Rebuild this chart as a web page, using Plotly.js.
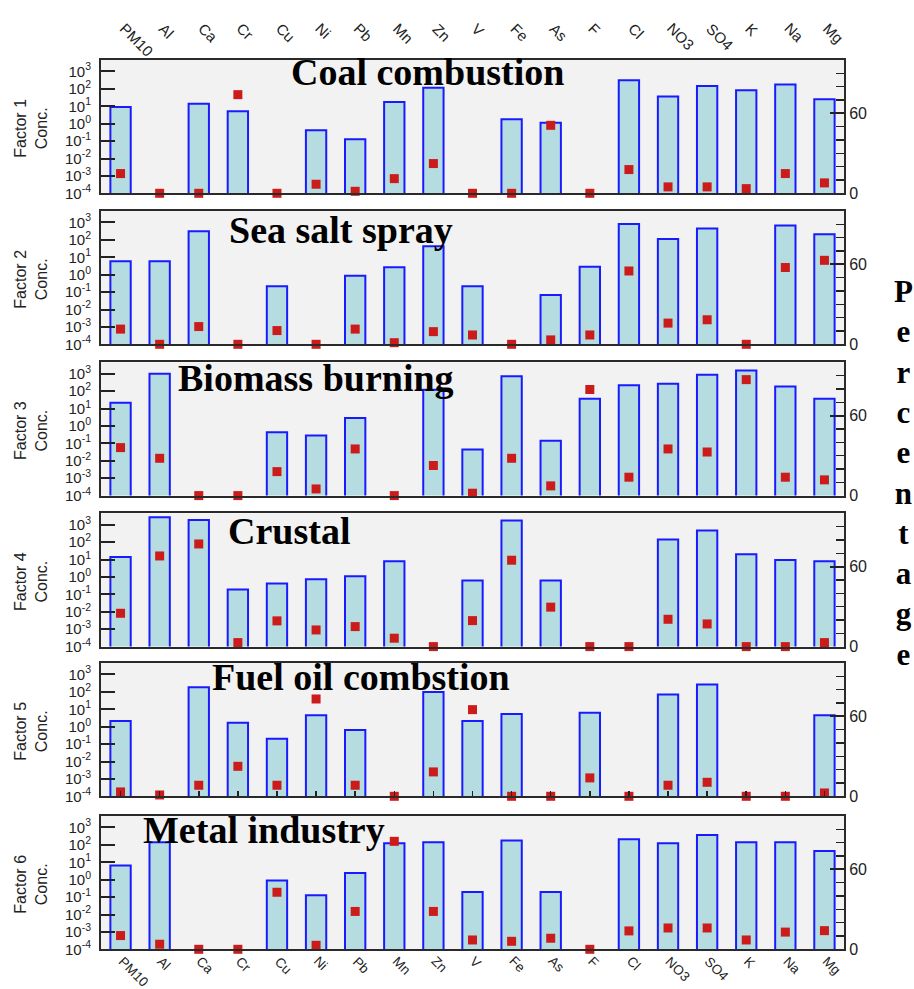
<!DOCTYPE html>
<html><head><meta charset="utf-8">
<script src="https://cdn.plot.ly/plotly-3.0.1.min.js"></script>
<style>html,body{margin:0;padding:0;background:#fff}</style>
</head><body>
<div id="chart" style="width:914px;height:989px"></div>
<script>
// ---------------- DATA ----------------
const categories = ['PM10','Al','Ca','Cr','Cu','Ni','Pb','Mn','Zn','V','Fe','As','F','Cl','NO3','SO4','K','Na','Mg'];
const factorNames = ['Coal combustion','Sea salt spray','Biomass burning','Crustal','Fuel oil combstion','Metal industry'];
const factorLabels = ['Factor 1','Factor 2','Factor 3','Factor 4','Factor 5','Factor 6'];

// concentration (bars, log axis)
const conc1 = [9.1, null, 14, 5.2, null, 0.42, 0.126, 17.6, 118, null, 1.8, 1.15, null, 310, 37, 147, 83, 177, 25];
const conc2 = [6, 6, 310, null, 0.22, null, 0.87, 2.7, 43, 0.22, null, 0.067, 2.9, 820, 114, 445, null, 680, 210];
const conc3 = [22, 1000, null, null, 0.44, 0.28, 2.9, null, 120, 0.045, 720, 0.14, 37, 220, 265, 870, 1520, 185, 37];
const conc4 = [14, 2700, 1900, 0.19, 0.42, 0.74, 1.1, 7.9, null, 0.62, 1740, 0.62, null, null, 142, 465, 20.6, 9.4, 7.9];
const conc5 = [2.1, null, 185, 1.7, 0.2, 4.6, 0.65, null, 100, 2.1, 5.3, null, 6.3, null, 71, 265, null, null, 4.5];
const conc6 = [6.6, 140, null, null, 0.91, 0.126, 2.4, 123, 140, 0.195, 176, 0.195, null, 208, 123, 372, 140, 140, 45];

// percentage of species (red squares, right axis)
const pct1 = [14.8, 0, 0, 74, 0, 6.8, 1.5, 11, 22.3, 0, 0, 51, 0, 17.8, 4.8, 4.8, 3.5, 14.8, 7.8];
const pct2 = [11.4, 0, 13.3, 0, 10.3, 0, 11.4, 1.2, 9.5, 7, 0, 3.3, 7, 55, 15.9, 18.4, 0, 57.6, 63];
const pct3 = [36, 28, 0, 0, 18, 5, 35, 0, 22.6, 1.8, 28, 7.3, 79.6, 13.8, 35, 32.7, 87, 13.8, 11.8];
const pct4 = [25, 68, 77, 3, 19.3, 12.5, 15, 6.3, 0, 19.5, 64.8, 29.6, 0, 0, 20.5, 17, 0, 0, 3];
const pct5 = [3.3, 1, 8.3, 22.5, 8.3, 73, 8.3, 0, 18.3, 65, 0, 0, 13.8, 0, 8.3, 10.5, 0, 0, 2.5];
const pct6 = [10.3, 3.8, 0, 0, 42.8, 3, 28.4, 81, 28.4, 7, 6, 8.3, 0, 13.8, 16, 16, 7, 12.9, 14];

const logTickVals = [1e-4, 1e-3, 1e-2, 1e-1, 1, 10, 100, 1000];
const logTickText = ['10<sup>-4</sup>','10<sup>-3</sup>','10<sup>-2</sup>','10<sup>-1</sup>','10<sup>0</sup>','10<sup>1</sup>','10<sup>2</sup>','10<sup>3</sup>'];
const pctTickVals = [0, 60];
const pctTickText = ['0', '60'];
const sideLabel = 'Percentage';

const concs = [conc1, conc2, conc3, conc4, conc5, conc6];
const pcts = [pct1, pct2, pct3, pct4, pct5, pct6];

// ---------------- LAYOUT ----------------
const W = 914, H = 989, ML = 101, MR = 70;
const PW = W - ML - MR;
const panelTop = [60, 211, 362.3, 513.3, 663, 816];
const panelH = 133.3;
const titlePos = [[427.5, 72], [341, 229.7], [316, 378], [288.5, 531], [361, 677], [264, 830]];

const sans = 'Liberation Sans, Arial, sans-serif';
const serif = 'Liberation Serif, Times New Roman, serif';
const px2x = p => (p - ML) / PW;
const px2y = p => 1 - p / H;

const data = [];
const layout = {
  width: W, height: H,
  margin: {l: ML, r: MR, t: 0, b: 0},
  paper_bgcolor: '#ffffff',
  plot_bgcolor: '#f2f2f2',
  showlegend: false,
  annotations: [],
  font: {family: sans, color: '#222'}
};

for (let i = 0; i < 6; i++) {
  const k = i + 1;
  const xid = k === 1 ? 'x' : 'x' + k;
  const yl = 'y' + (2 * i + 1 === 1 ? '' : (2 * i + 1));
  const yr = 'y' + (2 * i + 2);
  const xname = k === 1 ? 'xaxis' : 'xaxis' + k;
  const ylname = 'yaxis' + (2 * i + 1 === 1 ? '' : (2 * i + 1));
  const yrname = 'yaxis' + (2 * i + 2);
  const top = panelTop[i], bot = panelTop[i] + panelH;
  const dom = [px2y(bot), px2y(top)];

  data.push({
    type: 'bar', x: categories, y: concs[i], xaxis: xid, yaxis: yl,
    width: 0.52,
    marker: {color: '#b5dde1', line: {color: '#1a1aff', width: 2}},
    hoverinfo: 'x+y'
  });
  data.push({
    type: 'scatter', mode: 'markers', x: categories, y: pcts[i], xaxis: xid, yaxis: yr,
    cliponaxis: false,
    marker: {symbol: 'square', size: 9, color: '#cc1b1b'},
    hoverinfo: 'x+y'
  });

  layout[xname] = {
    type: 'category', domain: [0, 1], anchor: yl, range: [-0.5, 18.5],
    showticklabels: false, showgrid: false, zeroline: false,
    showline: true, mirror: true, linecolor: '#2a2a2a', linewidth: 2,
    ticks: k === 5 ? 'inside' : '', ticklen: 5, tickwidth: 1.5, tickcolor: '#222',
    fixedrange: true
  };
  layout[ylname] = {
    type: 'log', domain: dom, anchor: xid, range: [-4, 3.66],
    tickmode: 'array', tickvals: logTickVals, ticktext: logTickText,
    ticks: 'inside', ticklen: 14, tickwidth: 2, tickcolor: '#222',
    showgrid: false, zeroline: false, showline: true, linecolor: '#2a2a2a', linewidth: 2,
    tickfont: {family: sans, size: 15, color: '#222'},
    ticklabelstandoff: 5,
    fixedrange: true
  };
  layout[yrname] = {
    overlaying: yl, side: 'right', anchor: xid, range: [0, 100],
    tickmode: 'array', tickvals: pctTickVals, ticktext: pctTickText,
    ticks: 'inside', ticklen: 14, tickwidth: 2, tickcolor: '#222',
    minor: {dtick: 10, ticks: 'inside', ticklen: 8, tickwidth: 1.5, tickcolor: '#222', showgrid: false},
    showgrid: false, zeroline: false, showline: true, linecolor: '#2a2a2a', linewidth: 2,
    tickfont: {family: sans, size: 16, color: '#222'},
    fixedrange: true
  };

  // panel title
  layout.annotations.push({
    xref: 'paper', yref: 'paper', x: px2x(titlePos[i][0]), y: px2y(titlePos[i][1]),
    xanchor: 'center', yanchor: 'middle', showarrow: false,
    text: '<b>' + factorNames[i] + '</b>',
    font: {family: serif, size: 38, color: '#000'}
  });
  // left axis title
  layout.annotations.push({
    xref: 'paper', yref: 'paper', x: px2x(31), y: px2y((top + bot) / 2 + 2),
    xanchor: 'center', yanchor: 'middle', showarrow: false, textangle: -90,
    text: factorLabels[i] + '<br>Conc.',
    font: {family: sans, size: 16, color: '#222'}
  });
}

// category labels at top and bottom
categories.forEach(c => {
  layout.annotations.push({
    xref: 'x', yref: 'paper', x: c, y: px2y(17), xshift: -7,
    xanchor: 'left', yanchor: 'top', showarrow: false, textangle: 45,
    text: c, font: {family: sans, size: 15, color: '#222'}
  });
  layout.annotations.push({
    xref: 'x6', yref: 'paper', x: c, y: px2y(951), xshift: -8,
    xanchor: 'left', yanchor: 'top', showarrow: false, textangle: 45,
    text: c, font: {family: sans, size: 13.5, color: '#222'}
  });
});

// right side vertical label
layout.annotations.push({
  xref: 'paper', yref: 'paper', x: px2x(903), y: px2y(473),
  xanchor: 'center', yanchor: 'middle', showarrow: false,
  text: '<b>' + sideLabel.split('').join('<br>') + '</b>',
  font: {family: serif, size: 31, color: '#000'}
});

Plotly.newPlot('chart', data, layout, {staticPlot: true, displayModeBar: false});
</script>
</body></html>
